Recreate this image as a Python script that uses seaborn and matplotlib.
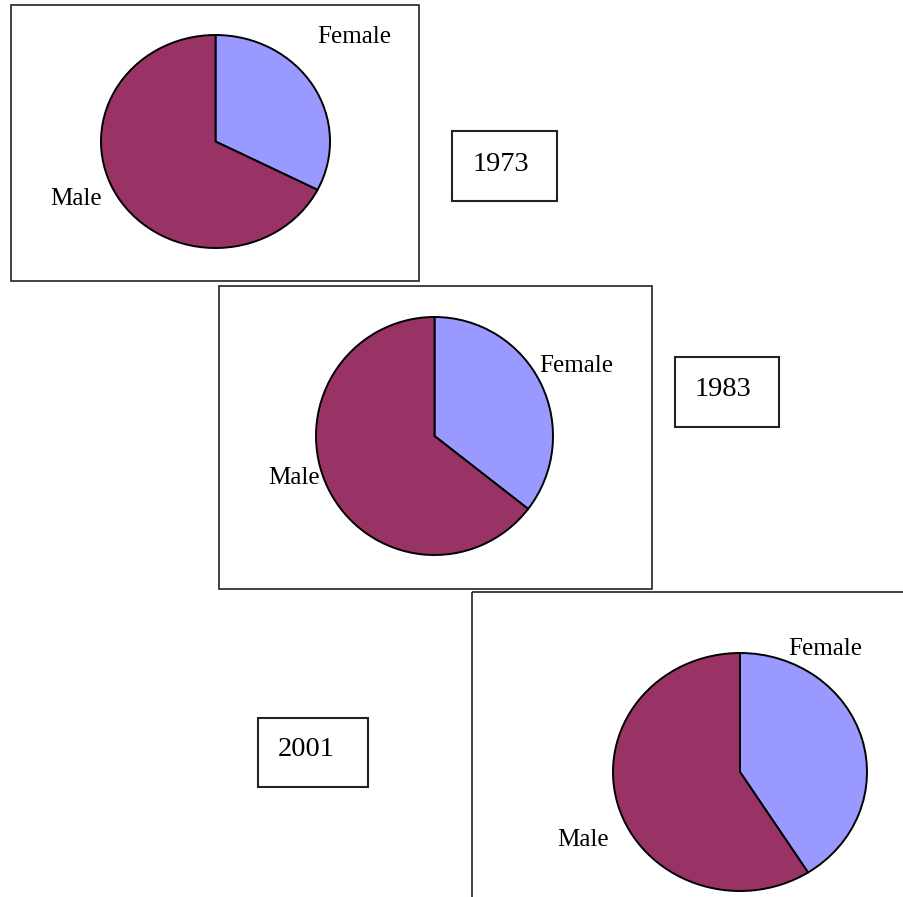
import matplotlib
matplotlib.use("Agg")
import matplotlib.pyplot as plt
from matplotlib.patches import Rectangle
import seaborn as sns

# Share of employees by sex in each survey year (percent)
years = ["1973", "1983", "2001"]
categories = ["Female", "Male"]
female_share = [32.5, 35.5, 41.0]
male_share = [100 - v for v in female_share]

sns.set_theme(style="white")
plt.rcParams["font.family"] = ["Liberation Serif", "DejaVu Serif"]

FEMALE_COLOR = "#9999FF"
MALE_COLOR = "#993366"

W, H = 904, 897
fig = plt.figure(figsize=(W / 100, H / 100), dpi=100)
fig.patch.set_facecolor("white")

# canvas axes in pixel units (y grows downward)
bg = fig.add_axes([0, 0, 1, 1])
bg.set_xlim(0, W)
bg.set_ylim(H, 0)
bg.axis("off")


def frame(x0, y0, x1, y1, lw=1.2):
    bg.add_patch(Rectangle((x0, y0), x1 - x0, y1 - y0, fill=False,
                           edgecolor="#222222", linewidth=lw, clip_on=False))


# chart frames
frame(11, 5, 419, 281)
frame(219, 286, 652, 589)
frame(472.5, 592.5, 910, 905)

# year boxes
year_boxes = [(452, 131, 557, 201), (675, 357, 779, 427), (258, 718, 368, 787)]
year_text_pos = [(473, 171), (695, 396), (278, 756)]
for (x0, y0, x1, y1), (tx, ty), yr in zip(year_boxes, year_text_pos, years):
    frame(x0, y0, x1, y1, lw=1.5)
    bg.text(tx, ty, yr, fontsize=20.5, ha="left", va="baseline", color="black")

# pie bounding boxes in pixels: x0, y0, x1, y1
pie_boxes = [(101, 35, 330, 248), (316, 317, 553, 555), (613, 653, 867, 891)]
female_label_pos = [(317, 43), (539, 372), (788, 655)]
male_label_pos = [(50, 205), (268, 484), (557, 846)]

for (x0, y0, x1, y1), f, m in zip(pie_boxes, female_share, male_share):
    ax = fig.add_axes([x0 / W, 1 - y1 / H, (x1 - x0) / W, (y1 - y0) / H])
    ax.pie([f, m], colors=[FEMALE_COLOR, MALE_COLOR], startangle=90,
           counterclock=False, radius=1,
           wedgeprops=dict(edgecolor="black", linewidth=1.4, clip_on=False))
    ax.set_xlim(-1, 1)
    ax.set_ylim(-1, 1)
    ax.set_aspect("auto")
    ax.axis("off")

for (fx, fy), (mx, my) in zip(female_label_pos, male_label_pos):
    bg.text(fx, fy, categories[0], fontsize=18, ha="left", va="baseline", color="black")
    bg.text(mx, my, categories[1], fontsize=18, ha="left", va="baseline", color="black")

fig.savefig("out.png", dpi=100, facecolor="white")
